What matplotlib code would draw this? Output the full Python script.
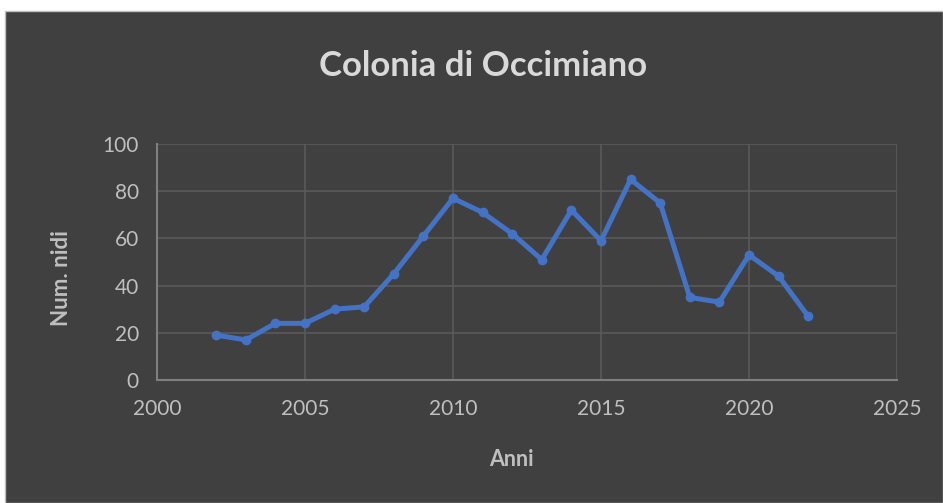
import matplotlib
matplotlib.use("Agg")
import matplotlib.pyplot as plt
from matplotlib.patches import Rectangle

years = [2002, 2003, 2004, 2005, 2006, 2007, 2008, 2009, 2010, 2011, 2012,
         2013, 2014, 2015, 2016, 2017, 2018, 2019, 2020, 2021, 2022]
nests = [19, 17, 24, 24, 30, 31, 45, 61, 77, 71, 62,
         51, 72, 59, 85, 75, 35, 33, 53, 44, 27]
x_ticks = [2000, 2005, 2010, 2015, 2020, 2025]
y_ticks = [0, 20, 40, 60, 80, 100]

plt.rcParams['font.family'] = ['Lato', 'DejaVu Sans']

W, H = 943, 503
fig = plt.figure(figsize=(W / 100, H / 100), dpi=100)
fig.patch.set_facecolor('white')
bg = Rectangle((5 / W, 0), 1 - 5 / W, 1 - 11 / H, transform=fig.transFigure,
               facecolor='#404040', edgecolor='#bfbfbf', linewidth=1.0, zorder=-10)
fig.patches.append(bg)

ax = fig.add_axes([157 / W, 1 - 380 / H, (897 - 157) / W, (380 - 144) / H])
ax.set_zorder(5)
ax.set_facecolor('#404040')
ax.plot(years, nests, color='#4472C4', linewidth=3.6, marker='o', markersize=6,
        solid_joinstyle='round', zorder=3)
ax.set_xlim(2000, 2025)
ax.set_ylim(0, 100)
ax.set_xticks(x_ticks)
ax.set_yticks(y_ticks)
ax.grid(True, color='#5a5a5a', linewidth=1.2)
ax.set_axisbelow(True)
for s in ['top', 'right']:
    ax.spines[s].set_visible(False)
ax.spines['left'].set_color('#7f7f7f')
ax.spines['bottom'].set_color('#7f7f7f')
ax.spines['left'].set_linewidth(1.5)
ax.spines['bottom'].set_linewidth(1.5)
ax.tick_params(length=0, colors='#bfbfbf', labelsize=15)
ax.tick_params(axis='y', pad=13)
ax.tick_params(axis='x', pad=14)
ax.set_xlabel('Anni', color='#bfbfbf', fontsize=15.5, fontweight='bold', va='center')
ax.set_ylabel('Num. nidi', color='#bfbfbf', fontsize=16, fontweight='bold', va='center')
ax.xaxis.set_label_coords(511 / W, 1 - 459 / H, transform=fig.transFigure)
ax.yaxis.set_label_coords(62 / W, 1 - 278 / H, transform=fig.transFigure)
fig.text(483 / W, 1 - 66 / H, 'Colonia di Occimiano', color='#d9d9d9', fontsize=25,
         fontweight='bold', ha='center', va='center', zorder=6)

fig.savefig('out.png', dpi=100, facecolor=fig.get_facecolor())
